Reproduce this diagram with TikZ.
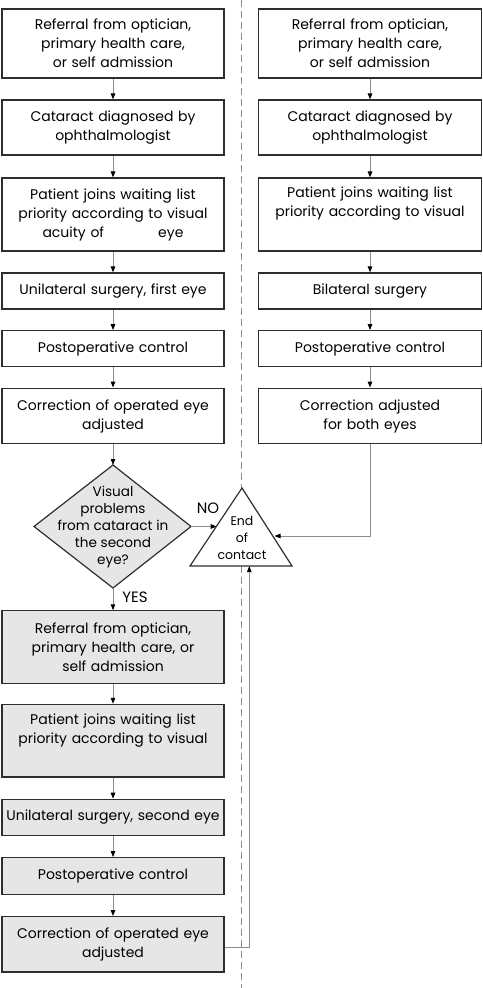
\documentclass[tikz,border=0pt]{standalone}
\usepackage{fontspec}
\setmainfont{Poppins}
\usetikzlibrary{arrows.meta,shapes.geometric}
\definecolor{boxgray}{HTML}{E6E6E6}
\definecolor{linegray}{HTML}{8C8C8C}
\definecolor{bordergray}{HTML}{2E2E2E}
\tikzset{
  stepbox/.style={draw=bordergray, line width=1.2pt, fill=white, minimum width=222pt, inner sep=0pt, align=center, font=\fontsize{14}{19}\selectfont, text width=215pt},
  graybox/.style={stepbox, fill=boxgray},
  conn/.style={draw=linegray, line width=1pt, -{Triangle[width=4.5pt,length=6pt,black]}},
  smalltext/.style={font=\fontsize{13.6}{17}\selectfont, align=center, inner sep=0pt},
  lbl/.style={font=\fontsize{15}{17}\selectfont, inner sep=0pt},
}
\begin{document}
\begin{tikzpicture}[x=1pt,y=-1pt]
\useasboundingbox (0,0) rectangle (482,988);
% dashed separator
\draw[linegray, line width=1pt, dash pattern=on 7pt off 4pt] (241.3,0) -- (241.3,488);
\draw[linegray, line width=1pt, dash pattern=on 7pt off 4pt] (241.3,566) -- (241.3,988);
% left column
\node[stepbox, minimum height=69pt] (L1) at (113,43.5) {Referral from optician,\\primary health care,\\or self admission};
\node[stepbox, minimum height=55pt] (L2) at (113,127.5) {Cataract diagnosed by\\ophthalmologist};
\node[stepbox, minimum height=73pt] (L3) at (113,214.5) {Patient joins waiting list\\priority according to visual\\acuity of \hspace{3.2em} eye};
\node[stepbox, minimum height=36pt] (L4) at (113,291) {Unilateral surgery, first eye};
\node[stepbox, minimum height=35.5pt] (L5) at (113,348.5) {Postoperative control};
\node[stepbox, minimum height=55.7pt] (L6) at (113,416) {Correction of operated eye\\adjusted};
% right column
\node[stepbox, minimum width=223pt, minimum height=69pt] (R1) at (370,43.5) {Referral from optician,\\primary health care,\\or self admission};
\node[stepbox, minimum width=223pt, minimum height=55pt] (R2) at (370,127.5) {Cataract diagnosed by\\ophthalmologist};
\node[stepbox, minimum width=223pt, minimum height=73pt] (R3) at (370,214.5) {Patient joins waiting list\\priority according to visual\\\strut};
\node[stepbox, minimum width=223pt, minimum height=36pt] (R4) at (370,291) {Bilateral surgery};
\node[stepbox, minimum width=223pt, minimum height=35.5pt] (R5) at (370,348.5) {Postoperative control};
\node[stepbox, minimum width=223pt, minimum height=55.7pt] (R6) at (370,416) {Correction adjusted\\for both eyes};
% diamond
\draw[draw=bordergray, line width=1.2pt, fill=boxgray] (113,465) -- (191,526.5) -- (113,588) -- (34,526.5) -- cycle;
\node[smalltext] (D) at (113,527) {Visual\\problems\\from cataract in\\the second\\eye?};
\coordinate (Dtop) at (113,465);
\coordinate (Dright) at (191,526.5);
\coordinate (Dbot) at (113,588);
% triangle
\draw[draw=bordergray, line width=1.2pt, fill=white] (242,488) -- (292,566) -- (190,566) -- cycle;
\node[smalltext, font=\fontsize{12.5}{17}\selectfont] (T) at (242,538) {End\\of\\contact};
\coordinate (Tleft) at (216.7,526.5);
\coordinate (Tright) at (274.5,536);
\coordinate (Tbase) at (249.3,566);
% lower left column
\node[graybox, minimum height=72.3pt] (G1) at (113,647) {Referral from optician,\\primary health care, or\\self admission};
\node[graybox, minimum height=72.7pt] (G2) at (113,740.7) {Patient joins waiting list\\priority according to visual\\\strut};
\node[graybox, minimum height=36.4pt] (G3) at (113,817.5) {Unilateral surgery, second eye};
\node[graybox, minimum height=36.6pt] (G4) at (113,876) {Postoperative control};
\node[graybox, minimum height=55.3pt] (G5) at (113,944.3) {Correction of operated eye\\adjusted};
% connectors
\draw[conn] (L1) -- (L2);
\draw[conn] (L2) -- (L3);
\draw[conn] (L3) -- (L4);
\draw[conn] (L4) -- (L5);
\draw[conn] (L5) -- (L6);
\draw[conn] (L6) -- (Dtop);
\draw[conn] (R1) -- (R2);
\draw[conn] (R2) -- (R3);
\draw[conn] (R3) -- (R4);
\draw[conn] (R4) -- (R5);
\draw[conn] (R5) -- (R6);
\draw[conn] (R6.south) |- (Tright);
\draw[conn] (Dright) -- (Tleft);
\node[lbl] (NO) at (208,508) {NO};
\draw[conn] (Dbot) -- (G1);
\node[lbl] (YES) at (135,597) {YES};
\draw[conn] (G1) -- (G2);
\draw[conn] (G2) -- (G3);
\draw[conn] (G3) -- (G4);
\draw[conn] (G4) -- (G5);
\draw[conn] (G5.east |- 0,947.7) -| (Tbase);
\end{tikzpicture}
\end{document}
